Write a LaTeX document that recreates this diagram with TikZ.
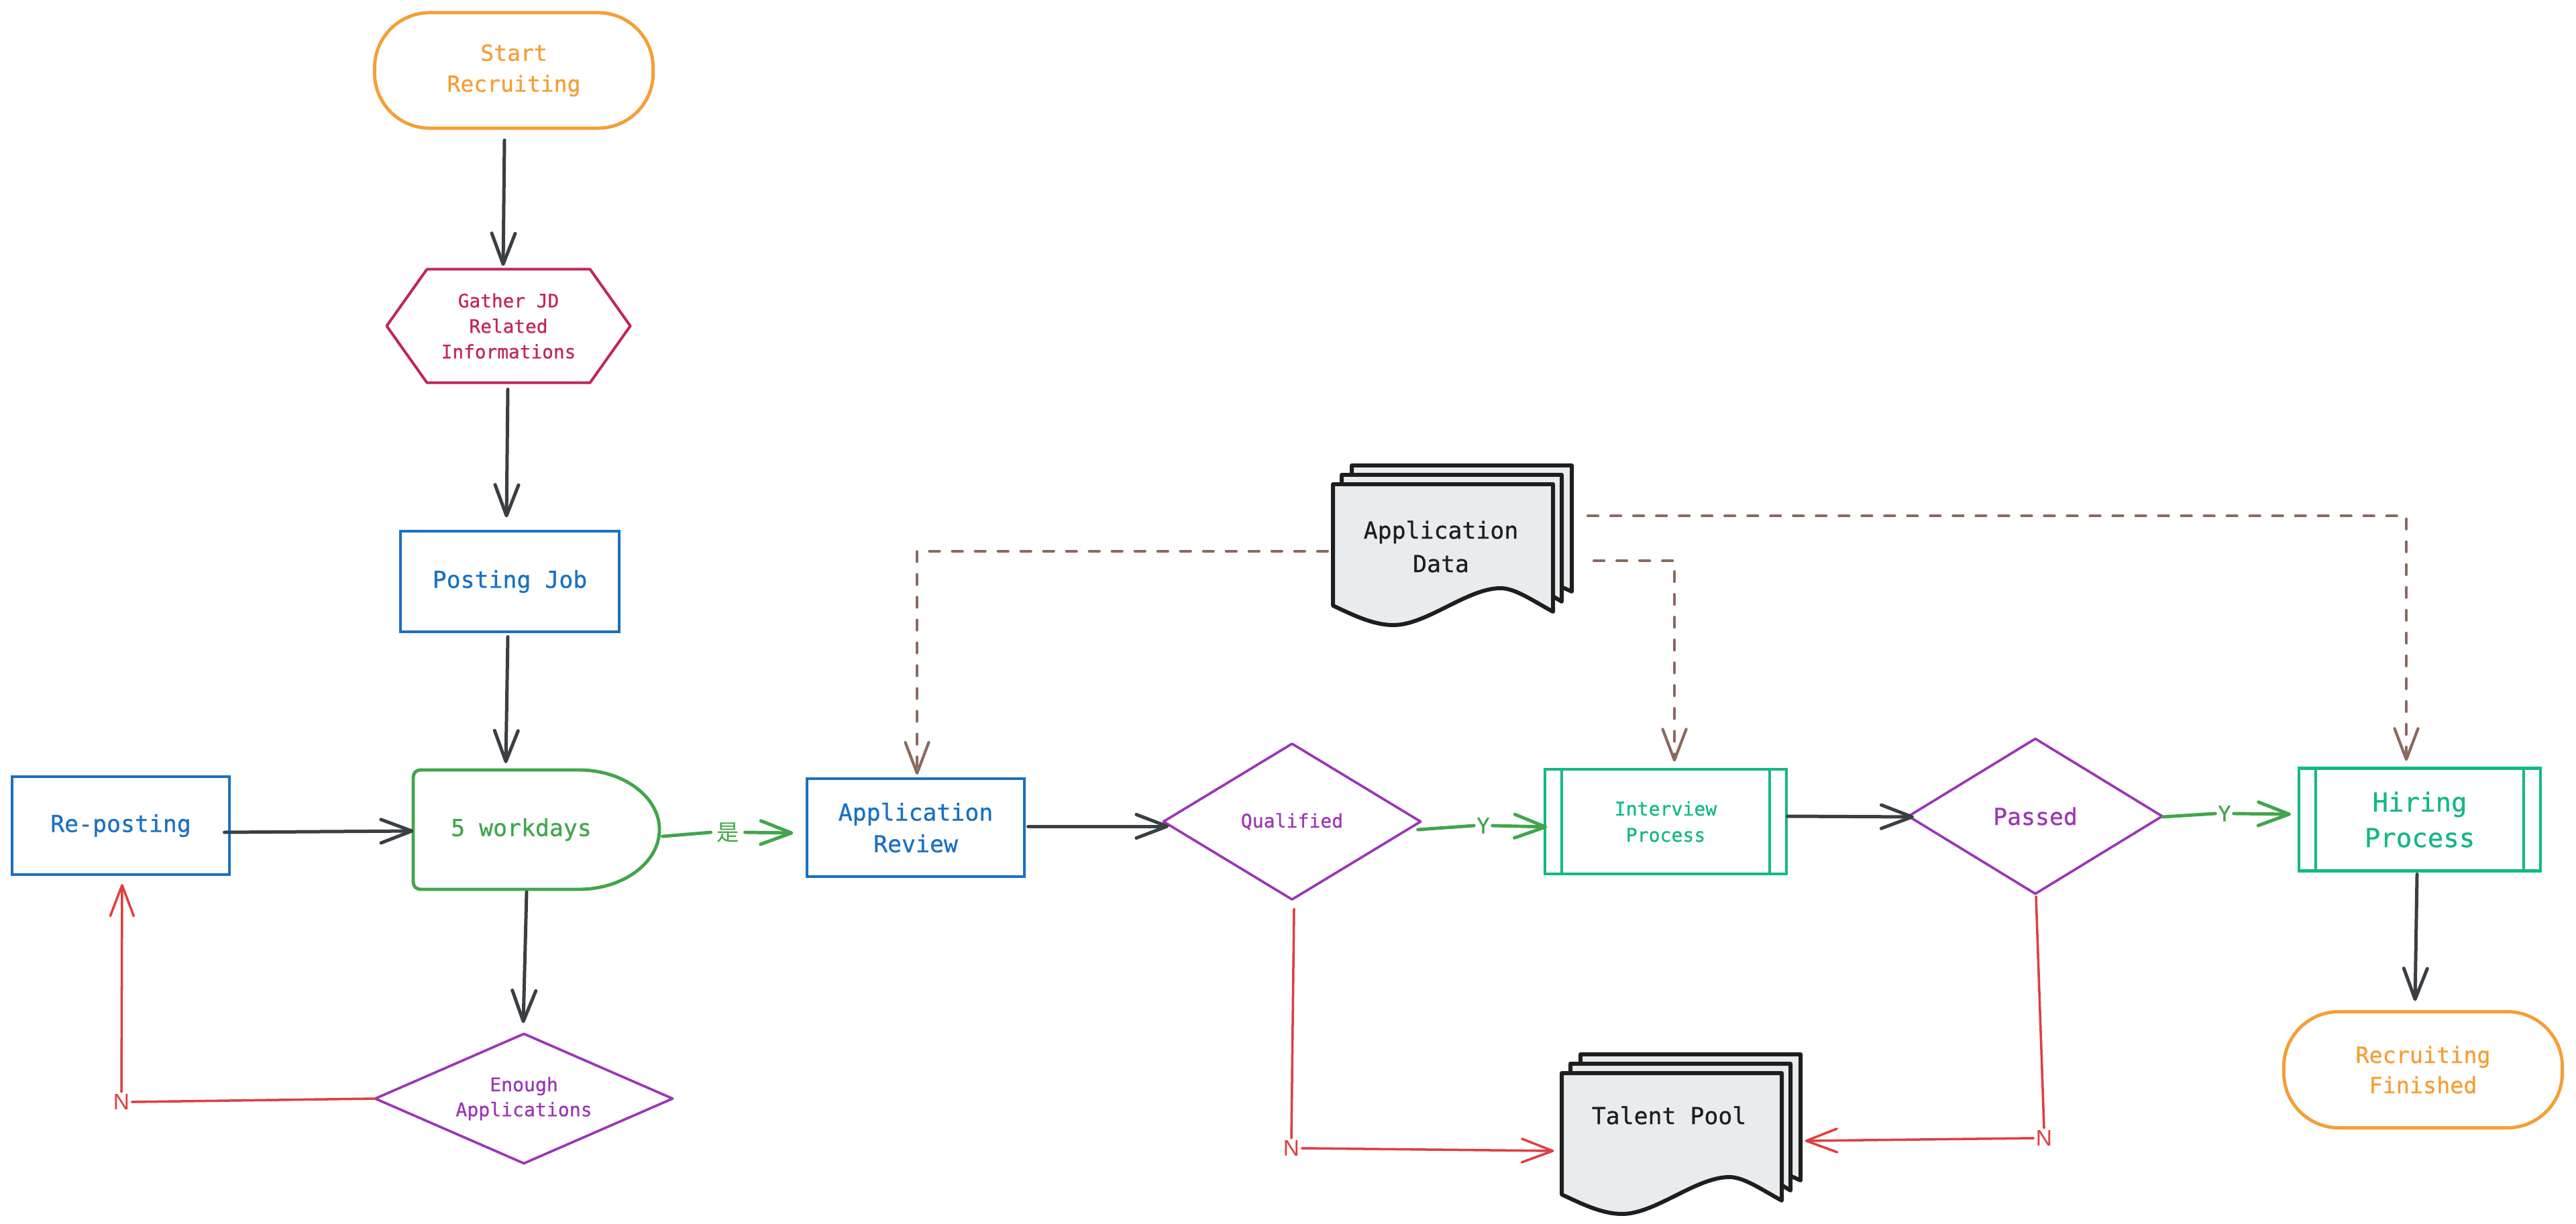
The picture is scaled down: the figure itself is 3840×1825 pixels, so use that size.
\documentclass[tikz,border=0pt]{standalone}
\usepackage{fontspec}
\setmainfont[FakeBold=0.7]{DejaVu Sans Mono}
\newfontfamily\lblfont{Liberation Sans}
\newfontfamily\cjkfont{Noto Sans CJK SC}
\usetikzlibrary{arrows.meta,calc}
\definecolor{cOrange}{HTML}{F59F35}
\definecolor{cCrimson}{HTML}{C2255C}
\definecolor{cBlue}{HTML}{1971C2}
\definecolor{cGreen}{HTML}{40A64B}
\definecolor{cTeal}{HTML}{12B886}
\definecolor{cPurple}{HTML}{9C36B5}
\definecolor{cRed}{HTML}{E03E3E}
\definecolor{cDark}{HTML}{3A3F44}
\definecolor{cBrown}{HTML}{8A6A5E}
\definecolor{cDocFill}{HTML}{E9ECEF}
\definecolor{cDocLine}{HTML}{1E1E1E}
\tikzset{
  barb/.tip={Straight Barb[length=4.6mm,width=3.5mm,round]},
  base/.style={outer sep=0pt, inner sep=0pt, align=center},
  fbig/.style={font=\fontsize{9.9pt}{13.6pt}\selectfont},
  fsmall/.style={font=\fontsize{8pt}{10.8pt}\selectfont},
  arr/.style={draw=cDark, line width=1.42pt, line cap=round, -barb},
  greenline/.style={draw=cGreen, line width=1.4pt, line cap=round},
  greenarr/.style={greenline, -barb},
  redline/.style={draw=cRed, line width=1.0pt, line cap=round},
  redarr/.style={redline, -barb},
  dasharr/.style={draw=cBrown, line width=1.2pt, line cap=round, dash pattern=on 0.15cm off 0.19cm, -barb},
  docline/.style={draw=cDocLine, fill=cDocFill, line width=1.7pt, line join=round},
  nlab/.style={base, text=cRed, font=\lblfont\fontsize{9.5pt}{11pt}\selectfont, inner sep=1pt},
  ylab/.style={base, text=cGreen, font=\fontsize{9pt}{11pt}\selectfont, inner sep=1.2pt},
}
\newcommand{\DrawDocStack}[2]{%
  \draw[docline] (#1+28,#2-28) -- (#1+356,#2-28) -- (#1+356,#2+160) -- (#1+300,#2+135) -- (#1+28,#2+100) -- cycle;
  \draw[docline] (#1+13,#2-14) -- (#1+341,#2-14) -- (#1+341,#2+175) -- (#1+300,#2+150) -- (#1+13,#2+100) -- cycle;
  \draw[docline] (#1,#2) -- (#1+328,#2) -- (#1+328,#2+190)
    .. controls (#1+300,#2+175) and (#1+272,#2+155) .. (#1+250,#2+155)
    .. controls (#1+200,#2+155) and (#1+140,#2+210) .. (#1+90,#2+210)
    .. controls (#1+60,#2+210) and (#1+30,#2+195) .. (#1,#2+181) -- cycle;
}
\begin{document}
\begin{tikzpicture}[x=0.01cm,y=-0.01cm]
\fill[white] (0,0) rectangle (3840,1825);
\useasboundingbox (0,0) rectangle (3840,1825);

% ---------- nodes ----------
\node[base, draw=cOrange, line width=1.4pt, rounded corners=0.82cm, minimum width=4.15cm, minimum height=1.72cm,
      text=cOrange, font=\fontsize{9.4pt}{13.1pt}\selectfont] (start) at (766,105) {Start\\Recruiting};

\node[base, minimum width=3.63cm, minimum height=1.69cm, text=cCrimson,
      font=\fontsize{7.9pt}{10.8pt}\selectfont] (gather) at (758,486) {Gather JD\\Related\\Informations};
\draw[cCrimson, line width=1.15pt, line join=round]
  ($(gather.north west)+(60,0)$) -- ($(gather.north east)+(-60,0)$) -- (gather.east)
  -- ($(gather.south east)+(-60,0)$) -- ($(gather.south west)+(60,0)$) -- (gather.west) -- cycle;

\node[base, draw=cBlue, line width=1.15pt, minimum width=3.25cm, minimum height=1.49cm, text=cBlue, fbig] (post) at (760,867) {Posting Job};

\node[base, draw=cBlue, line width=1.15pt, minimum width=3.23cm, minimum height=1.46cm, text=cBlue, fbig] (repost) at (180,1231) {Re-posting};

\node[base, minimum width=3.67cm, minimum height=1.78cm] (delay) at (800,1237) {};
\draw[cGreen, line width=1.4pt, line join=round]
  (628,1148) -- (863,1148) .. controls (929,1148) and (983,1188) .. (983,1237)
  .. controls (983,1286) and (929,1326) .. (863,1326) -- (628,1326)
  .. controls (620,1326) and (616,1322) .. (616,1314) -- (616,1160)
  .. controls (616,1152) and (620,1148) .. (628,1148) -- cycle;
\node[base, text=cGreen, fbig] (delaytxt) at (777,1237) {5 workdays};

\node[base, minimum width=4.43cm, minimum height=1.93cm, text=cPurple, font=\fontsize{8pt}{10.6pt}\selectfont] (enough) at (781,1638) {Enough\\Applications};
\draw[cPurple, line width=1.05pt, line join=round] (enough.north) -- (enough.east) -- (enough.south) -- (enough.west) -- cycle;

\node[base, draw=cBlue, line width=1.15pt, minimum width=3.23cm, minimum height=1.46cm, text=cBlue,
      font=\fontsize{9.9pt}{13.4pt}\selectfont] (review) at (1365,1234) {Application\\Review};

\node[base, minimum width=3.83cm, minimum height=2.32cm, text=cPurple, fsmall] (qual) at (1926,1225) {Qualified};
\draw[cPurple, line width=1.05pt, line join=round] (qual.north) -- (qual.east) -- (qual.south) -- (qual.west) -- cycle;

\node[base, draw=cTeal, line width=1.15pt, minimum width=3.59cm, minimum height=1.55cm, text=cTeal,
      font=\fontsize{8pt}{11.1pt}\selectfont] (interview) at (2483,1225) {Interview\\Process};
\draw[cTeal, line width=1.15pt] ($(interview.north west)+(25,0)$) -- ($(interview.south west)+(25,0)$);
\draw[cTeal, line width=1.15pt] ($(interview.north east)+(-25,0)$) -- ($(interview.south east)+(-25,0)$);

\node[base, minimum width=3.78cm, minimum height=2.31cm, text=cPurple, fbig] (passed) at (3034,1217) {Passed};
\draw[cPurple, line width=1.05pt, line join=round] (passed.north) -- (passed.east) -- (passed.south) -- (passed.west) -- cycle;

\node[base, draw=cTeal, line width=1.3pt, minimum width=3.60cm, minimum height=1.53cm, text=cTeal,
      font=\fontsize{11.1pt}{15.1pt}\selectfont] (hiring) at (3607,1222) {Hiring\\Process};
\draw[cTeal, line width=1.15pt] ($(hiring.north west)+(25,0)$) -- ($(hiring.south west)+(25,0)$);
\draw[cTeal, line width=1.15pt] ($(hiring.north east)+(-25,0)$) -- ($(hiring.south east)+(-25,0)$);

\node[base, draw=cOrange, line width=1.4pt, rounded corners=0.82cm, minimum width=4.15cm, minimum height=1.73cm,
      text=cOrange, font=\fontsize{9.5pt}{12.8pt}\selectfont] (finish) at (3612,1595) {Recruiting\\Finished};

% documents
\DrawDocStack{1987}{722}
\node[base, minimum width=3.28cm, minimum height=1.81cm] (appdata) at (2151,812) {};
\node[base, text=cDocLine, font=\fontsize{9.9pt}{14.2pt}\selectfont] (appdatatxt) at (2148,815) {Application\\Data};

\DrawDocStack{2328}{1600}
\node[base, minimum width=3.29cm, minimum height=1.75cm] (talent) at (2492,1688) {};
\node[base, text=cDocLine, fbig] (talenttxt) at (2488,1663) {Talent Pool};

% ---------- connectors ----------
\draw[arr] ($(start.south)+(-14,18)$) -- ($(gather.north)+(-8,-5)$);
\draw[arr] ($(gather.south)+(-1,10)$) -- ($(post.north)+(-5,-21)$);
\draw[arr] ($(post.south)+(-3,8)$) -- ($(delay.north)+(-46,-10)$);
\draw[arr] ($(repost.east)+(-7,10)$) -- ($(delay.west)+(0,2)$);
\draw[arr] ($(delay.south)+(-15,4)$) -- ($(enough.north)+(-1,-16)$);

\node[nlab] (n1) at (181,1643) {N};
\draw[redline] (enough.west) -- (n1.east);
\draw[redarr] (n1.north) -- ($(repost.south)+(2,14)$);

\node[base, text=cGreen, fill=white, inner sep=2.5pt, font=\cjkfont\fontsize{9.5pt}{11pt}\selectfont] (shi) at (1085,1241) {是};
\draw[greenline] ($(delay.east)+(4,10)$) -- (shi.west);
\draw[greenarr] (shi.east) -- ($(review.west)+(-21,8)$);

\draw[arr] ($(review.east)+(6,-2)$) -- ($(qual.west)+(8,7)$);

\node[ylab] (y1) at (2211,1231) {Y};
\draw[greenline] ($(qual.east)+(-4,12)$) -- (y1.west);
\draw[greenarr] (y1.east) -- ($(interview.west)+(3,8)$);

\draw[arr] ($(interview.east)+(2,-8)$) -- ($(passed.west)+(8,1)$);

\node[ylab] (y2) at (3316,1213) {Y};
\draw[greenline] ($(passed.east)+(1,1)$) -- (y2.west);
\draw[greenarr] (y2.east) -- ($(hiring.west)+(-12,-8)$);

\draw[arr] ($(hiring.south)+(-4,5)$) -- ($(finish.north)+(-12,-16)$);

\node[nlab] (n2) at (1925,1712) {N};
\draw[redline] ($(qual.south)+(3,14)$) -- (n2.north);
\draw[redarr] (n2.east) -- ($(talent.west)+(-11,28)$);

\node[nlab] (n3) at (3047,1697) {N};
\draw[redline] ($(passed.south)+(1,4)$) -- (n3.north);
\draw[redarr] (n3.west) -- ($(talent.east)+(34,13)$);

\draw[dasharr] ($(appdata.west)+(-8,10)$) -| ($(review.north)+(2,-6)$);
\draw[dasharr] ($(appdata.east)+(61,24)$) -| ($(interview.north)+(13,-12)$);
\draw[dasharr] ($(appdata.east)+(52,-43)$) -| ($(hiring.north)+(-20,-11)$);
\end{tikzpicture}
\end{document}
